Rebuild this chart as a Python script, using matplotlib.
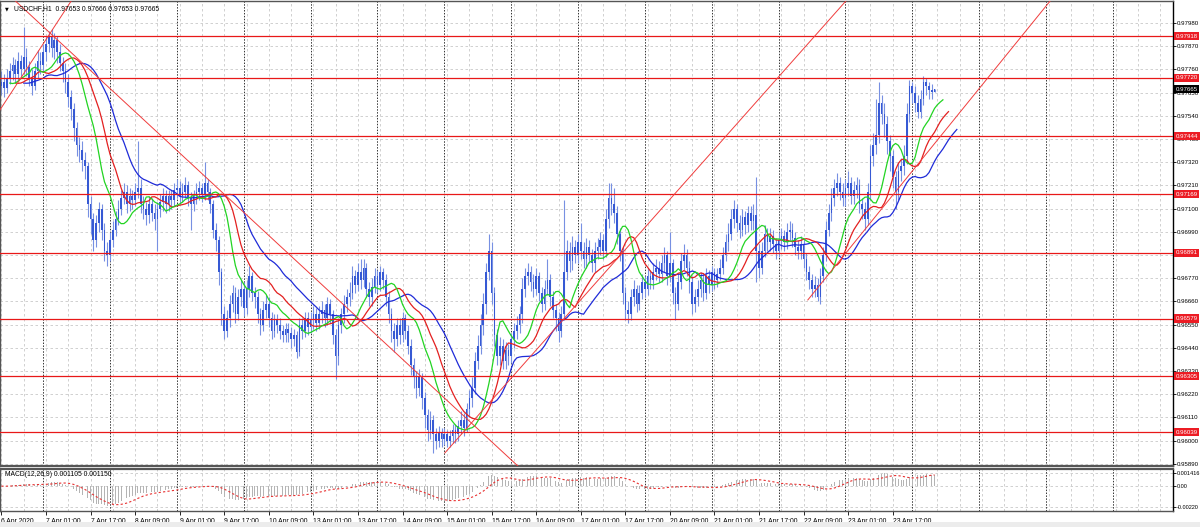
import numpy as np
import pandas as pd
import matplotlib
matplotlib.use('Agg')
import matplotlib.pyplot as plt
from matplotlib.transforms import blended_transform_factory
from matplotlib.patches import Rectangle

plt.rcParams['font.family'] = ['Liberation Sans', 'DejaVu Sans']

# USDCHF H1, 6 Apr 09:00 .. 24 Apr 08:00, prices in pips (x 1e-4)
first_open = 9768
close = [
    9770, 9767, 9772, 9775, 9778, 9774, 9780, 9776, 9782, 9777, 9772, 9768,
    9775, 9780, 9778, 9784, 9788, 9792, 9786, 9790, 9784, 9779, 9775, 9770,
    9763, 9757, 9748, 9740, 9738, 9733, 9730, 9712, 9705, 9695, 9703, 9710,
    9700, 9690, 9688, 9695, 9700, 9705, 9710, 9715, 9718, 9712, 9716, 9714,
    9718, 9720, 9712, 9710, 9707, 9712, 9708, 9705, 9710, 9713, 9716, 9712,
    9716, 9714, 9719, 9720, 9716, 9718, 9721, 9715, 9712, 9716, 9718, 9720,
    9717, 9722, 9718, 9712, 9700, 9695, 9680, 9660, 9652, 9658, 9665, 9670,
    9660, 9668, 9672, 9663, 9672, 9678, 9670, 9668, 9660, 9655, 9662, 9665,
    9658, 9652, 9657, 9655, 9652, 9650, 9653, 9651, 9648, 9650, 9642, 9655,
    9652, 9658, 9654, 9657, 9660, 9656, 9660, 9662, 9658, 9665, 9660, 9650,
    9640, 9655, 9660, 9665, 9668, 9670, 9678, 9674, 9680, 9676, 9682, 9672,
    9668, 9673, 9678, 9674, 9680, 9676, 9668, 9660, 9652, 9648, 9655, 9650,
    9658, 9652, 9645, 9636, 9630, 9625, 9630, 9620, 9612, 9605, 9610, 9603,
    9600, 9604, 9601, 9603, 9600, 9602, 9605, 9603, 9607, 9610, 9606, 9615,
    9620, 9625, 9638, 9645, 9655, 9665, 9680, 9690, 9670, 9650, 9640, 9645,
    9638, 9643, 9640, 9648, 9652, 9655, 9660, 9672, 9678, 9680, 9675, 9672,
    9678, 9670, 9665, 9672, 9676, 9668, 9662, 9658, 9652, 9660, 9680, 9690,
    9685, 9692, 9688, 9694, 9690, 9686, 9692, 9688, 9684, 9690, 9692, 9695,
    9690, 9705, 9715, 9712, 9708, 9698, 9690, 9670, 9662, 9660, 9668, 9672,
    9665, 9670, 9675, 9672, 9678, 9676, 9680, 9682, 9679, 9684, 9688, 9678,
    9684, 9670, 9665, 9675, 9685, 9688, 9682, 9675, 9665, 9668, 9672, 9676,
    9670, 9678, 9674, 9680, 9676, 9679, 9682, 9688, 9694, 9698, 9705, 9710,
    9703, 9700, 9706, 9702, 9708, 9704, 9707, 9690, 9682, 9690, 9698, 9694,
    9697, 9693, 9690, 9695, 9697, 9694, 9699, 9700, 9696, 9692, 9690, 9693,
    9686, 9680, 9676, 9672, 9674, 9668, 9678, 9688, 9700, 9708, 9715, 9720,
    9722, 9718, 9715, 9720, 9722, 9716, 9719, 9721, 9712, 9710, 9705, 9718,
    9735, 9740, 9745, 9760, 9755, 9750, 9742, 9735, 9725, 9718, 9728, 9730,
    9735, 9755, 9768, 9765, 9760, 9756, 9762, 9770, 9768, 9766, 9765.3, 9766.5,
]
high = [
    9775, 9774, 9776, 9779, 9782, 9781, 9784, 9783, 9796, 9786, 9780, 9776,
    9779, 9785, 9784, 9788, 9792, 9794, 9795, 9793, 9792, 9788, 9782, 9779,
    9774, 9766, 9760, 9751, 9744, 9742, 9737, 9732, 9716, 9708, 9707, 9713,
    9712, 9703, 9694, 9699, 9704, 9709, 9714, 9719, 9722, 9721, 9720, 9719,
    9722, 9742, 9724, 9716, 9713, 9716, 9715, 9712, 9713, 9717, 9720, 9719,
    9719, 9719, 9722, 9724, 9723, 9722, 9725, 9723, 9718, 9719, 9722, 9723,
    9722, 9732, 9724, 9720, 9714, 9703, 9697, 9682, 9664, 9662, 9669, 9674,
    9673, 9672, 9676, 9675, 9676, 9683, 9680, 9673, 9671, 9663, 9666, 9669,
    9668, 9661, 9660, 9660, 9658, 9655, 9656, 9656, 9654, 9653, 9652, 9658,
    9658, 9661, 9661, 9661, 9664, 9663, 9664, 9666, 9665, 9668, 9667, 9662,
    9653, 9658, 9663, 9669, 9672, 9675, 9683, 9681, 9684, 9686, 9686, 9684,
    9675, 9677, 9682, 9681, 9683, 9682, 9679, 9671, 9663, 9656, 9658, 9658,
    9661, 9660, 9655, 9648, 9639, 9633, 9634, 9632, 9623, 9615, 9614, 9612,
    9606, 9607, 9606, 9606, 9605, 9605, 9608, 9608, 9610, 9614, 9613, 9618,
    9624, 9630, 9642, 9650, 9660, 9670, 9684, 9698, 9694, 9673, 9653, 9649,
    9648, 9647, 9646, 9651, 9656, 9659, 9664, 9677, 9682, 9684, 9683, 9679,
    9682, 9680, 9673, 9676, 9686, 9679, 9671, 9665, 9661, 9664, 9714, 9695,
    9694, 9697, 9695, 9698, 9703, 9694, 9696, 9695, 9691, 9694, 9696, 9699,
    9698, 9710, 9722, 9722, 9720, 9711, 9701, 9692, 9673, 9666, 9672, 9676,
    9674, 9674, 9679, 9678, 9682, 9681, 9684, 9686, 9685, 9688, 9692, 9690,
    9699, 9686, 9673, 9679, 9689, 9693, 9691, 9685, 9678, 9672, 9676, 9680,
    9679, 9682, 9681, 9683, 9682, 9682, 9686, 9692, 9698, 9703, 9710, 9714,
    9712, 9707, 9710, 9709, 9711, 9711, 9712, 9725, 9693, 9694, 9702, 9701,
    9701, 9700, 9696, 9699, 9701, 9700, 9703, 9704, 9703, 9699, 9695, 9697,
    9696, 9689, 9683, 9679, 9678, 9677, 9682, 9692, 9704, 9712, 9720, 9724,
    9727, 9725, 9722, 9724, 9728, 9725, 9723, 9725, 9724, 9715, 9713, 9722,
    9740, 9746, 9762, 9770, 9764, 9760, 9754, 9745, 9738, 9728, 9732, 9734,
    9740, 9760, 9771, 9770, 9768, 9764, 9766, 9773, 9772, 9770, 9769, 9766.6,
]
low = [
    9764, 9763, 9765, 9769, 9771, 9770, 9771, 9772, 9774, 9773, 9768, 9764,
    9766, 9772, 9774, 9775, 9780, 9784, 9782, 9781, 9779, 9775, 9770, 9765,
    9758, 9752, 9742, 9735, 9732, 9728, 9724, 9706, 9698, 9690, 9692, 9699,
    9695, 9685, 9683, 9685, 9692, 9697, 9702, 9707, 9712, 9708, 9709, 9710,
    9711, 9715, 9708, 9705, 9702, 9703, 9704, 9700, 9690, 9706, 9709, 9708,
    9709, 9710, 9711, 9715, 9712, 9713, 9715, 9711, 9700, 9709, 9712, 9714,
    9713, 9714, 9714, 9708, 9696, 9690, 9674, 9655, 9648, 9649, 9654, 9661,
    9656, 9657, 9664, 9659, 9660, 9668, 9666, 9663, 9656, 9650, 9652, 9658,
    9654, 9648, 9649, 9651, 9648, 9647, 9647, 9647, 9644, 9645, 9639, 9640,
    9648, 9649, 9650, 9651, 9653, 9652, 9653, 9656, 9654, 9655, 9656, 9646,
    9629, 9636, 9651, 9656, 9661, 9664, 9667, 9670, 9671, 9672, 9673, 9668,
    9664, 9664, 9670, 9670, 9671, 9672, 9664, 9656, 9647, 9642, 9645, 9646,
    9647, 9648, 9641, 9631, 9625, 9620, 9621, 9615, 9606, 9600, 9601, 9594,
    9596, 9597, 9597, 9598, 9597, 9597, 9599, 9599, 9600, 9603, 9602, 9604,
    9611, 9616, 9622, 9634, 9641, 9650, 9660, 9676, 9665, 9645, 9636, 9636,
    9634, 9634, 9636, 9637, 9644, 9648, 9651, 9656, 9668, 9674, 9671, 9668,
    9669, 9666, 9661, 9662, 9669, 9664, 9658, 9652, 9647, 9649, 9657, 9676,
    9680, 9681, 9684, 9684, 9686, 9682, 9682, 9684, 9680, 9680, 9686, 9688,
    9686, 9687, 9701, 9707, 9703, 9693, 9685, 9665, 9657, 9656, 9657, 9664,
    9661, 9662, 9667, 9668, 9669, 9672, 9672, 9676, 9675, 9675, 9680, 9674,
    9675, 9665, 9657, 9662, 9672, 9681, 9678, 9670, 9660, 9661, 9664, 9668,
    9666, 9667, 9670, 9671, 9672, 9673, 9676, 9679, 9685, 9690, 9695, 9701,
    9699, 9696, 9697, 9698, 9699, 9700, 9700, 9675, 9677, 9679, 9687, 9690,
    9690, 9689, 9686, 9687, 9691, 9690, 9691, 9695, 9692, 9688, 9686, 9686,
    9682, 9676, 9672, 9668, 9668, 9666, 9665, 9675, 9685, 9697, 9704, 9711,
    9716, 9714, 9711, 9711, 9716, 9712, 9712, 9715, 9708, 9705, 9700, 9702,
    9714, 9730, 9736, 9741, 9750, 9744, 9736, 9728, 9720, 9710, 9714, 9723,
    9726, 9731, 9751, 9760, 9756, 9753, 9753, 9759, 9764, 9762, 9762, 9765.3,
]

# horizontal levels and trend lines drawn on the chart
levels = [0.97918, 0.97720, 0.97444, 0.97169, 0.96891, 0.96579, 0.96305, 0.96039]
cur_price = 0.97665
trend_lines = [((17.4, 0.97933), (185.0, 0.95885)),
               ((-0.5, 0.97568), (25.3, 0.98089))]
trend_rays = [((159.2, 0.95942), (303.5, 0.98089)),
              ((289.5, 0.96667), (376.8, 0.98089))]

price_ticks = [0.95890 + 0.0011 * k for k in range(20)]
macd_ticks = [0.001416, 0.0, -0.0022]
macd_labels = ['0.001416', '0.00', '-0.00220']
date_pos = list(range(0, 321, 16))
date_labels = ['6 Apr 2020', '7 Apr 01:00', '7 Apr 17:00', '8 Apr 09:00', '9 Apr 01:00',
               '9 Apr 17:00', '10 Apr 09:00', '13 Apr 01:00', '13 Apr 17:00', '14 Apr 09:00',
               '15 Apr 01:00', '15 Apr 17:00', '16 Apr 09:00', '17 Apr 01:00', '17 Apr 17:00',
               '20 Apr 09:00', '21 Apr 01:00', '21 Apr 17:00', '22 Apr 09:00', '23 Apr 01:00',
               '23 Apr 17:00']

c = np.array(close) * 1e-4
h = np.array(high) * 1e-4
l = np.array(low) * 1e-4
o = np.concatenate([[first_open * 1e-4], c[:-1]])
n = len(c)
idx = np.arange(n)

W, H = 1200, 527
fs = 4.9      # bottom / header text
fsr = 4.45    # right scale text


def box(x0, y0, x1, y1):
    return [x0 / W, 1 - y1 / H, (x1 - x0) / W, (y1 - y0) / H]


fig = plt.figure(figsize=(12, 5.27), dpi=100)
fig.patches.append(Rectangle((0, 0), 1, 5 / H, transform=fig.transFigure,
                             fc='#ececec', ec='none', zorder=0))
ax = fig.add_axes(box(0, 1, 1173, 466))
am = fig.add_axes(box(0, 469, 1173, 511), sharex=ax)
xmax = 420.6
ax.set_xlim(-0.5, xmax)
ax.set_ylim(0.95880, 0.98084)
am.set_ylim(-0.00265, 0.00182)

# grid: light every 8 bars, dark day separators
for a in (ax, am):
    for xv in range(0, 421, 8):
        a.axvline(xv, color='#c9c9c9', lw=0.6, ls=(0, (3, 3)), zorder=0)
    for xv in range(15, 421, 24):
        a.axvline(xv, color='#333333', lw=0.7, ls=(0, (1.5, 1.5)), zorder=0.5)
for yv in price_ticks:
    ax.axhline(yv, color='#c9c9c9', lw=0.6, ls=(0, (3, 3)), zorder=0)
for yv in macd_ticks:
    am.axhline(yv, color='#c9c9c9', lw=0.6, ls=(0, (3, 3)), zorder=0)

# candles
ax.vlines(idx, l, h, color='#7790e2', lw=0.8, zorder=2)
body_lo = np.minimum(o, c)
body_h = np.maximum(np.abs(c - o), 0.00003)
ax.bar(idx, body_h, bottom=body_lo, width=0.6, color='#3659d4', lw=0, zorder=3)

# alligator
med = (h + l) / 2


def smma(x, p):
    return pd.Series(x).ewm(alpha=1 / p, adjust=False).mean().values


ax.plot(idx + 8, smma(med, 13), color='#1f2bd8', lw=0.9, zorder=4)
ax.plot(idx + 5, smma(med, 8), color='#e32020', lw=0.9, zorder=4)
ax.plot(idx + 3, smma(med, 5), color='#22d422', lw=0.9, zorder=4)

# levels and trend lines
for lv in levels:
    ax.axhline(lv, color='#e81818', lw=0.9, zorder=5)
for p1, p2 in trend_lines:
    ax.axline(p1, p2, color='#f03c3c', lw=0.7, zorder=5)
for p1, p2 in trend_rays:
    k = (p2[1] - p1[1]) / (p2[0] - p1[0])
    ax.plot([p1[0], xmax], [p1[1], p1[1] + k * (xmax - p1[0])], color='#f03c3c', lw=0.7, zorder=5)

# MACD
cs = pd.Series(c)
macd = cs.ewm(span=12, adjust=False).mean() - cs.ewm(span=26, adjust=False).mean()
signal = macd.rolling(9, min_periods=1).mean()
am.bar(idx, macd.values, width=0.3, color='#b4b4b4', lw=0, zorder=2)
am.plot(idx, signal.values, color='#e83030', lw=0.8, ls=(0, (2, 2)), zorder=3)

# axes cosmetics
for a in (ax, am):
    for s in a.spines.values():
        s.set_color('#555555')
        s.set_linewidth(1.0)
    a.spines['right'].set_color('#000000')
    a.yaxis.tick_right()
    a.tick_params(axis='y', length=2, width=0.6, pad=1, labelsize=fsr, colors='#000000')
ax.spines['bottom'].set_linewidth(1.6)
am.spines['top'].set_linewidth(1.6)
ax.set_yticks(price_ticks)
ax.set_yticklabels(['%.5f' % v for v in price_ticks])
ax.tick_params(axis='x', bottom=False, labelbottom=False)
am.set_yticks(macd_ticks)
am.set_yticklabels(macd_labels)
am.tick_params(axis='y', labelsize=4.0)
am.set_xticks(date_pos)
am.set_xticklabels(date_labels, ha='left')
am.tick_params(axis='x', length=3, width=0.6, pad=2, labelsize=fs, colors='#000000')
ax.set_xlim(-0.5, xmax)

# price boxes on the right scale
tr = blended_transform_factory(ax.transAxes, ax.transData)
for lv in levels:
    ax.text(1.0022, lv, '%.5f' % lv, transform=tr, va='center', ha='left', fontsize=fsr,
            color='white', zorder=10, clip_on=False,
            bbox=dict(boxstyle='square,pad=0.25', fc='#ec1c24', ec='none'))
ax.text(1.0022, cur_price, '%.5f' % cur_price, transform=tr, va='center', ha='left',
        fontsize=fsr, color='white', zorder=10, clip_on=False,
        bbox=dict(boxstyle='square,pad=0.25', fc='#000000', ec='none'))

# header texts
fig.text(5 / W, 1 - 9 / H, '\u25BC', fontsize=3.5, va='center', ha='left',
         family=['DejaVu Sans'])
fig.text(14 / W, 1 - 9 / H, 'USDCHF,H1  0.97653 0.97666 0.97653 0.97665',
         fontsize=fs, va='center', ha='left')
fig.text(5 / W, 1 - 474 / H, 'MACD(12,26,9) 0.001105 0.001150',
         fontsize=fs, va='center', ha='left')

fig.savefig('out.png', dpi=100, facecolor='white')
